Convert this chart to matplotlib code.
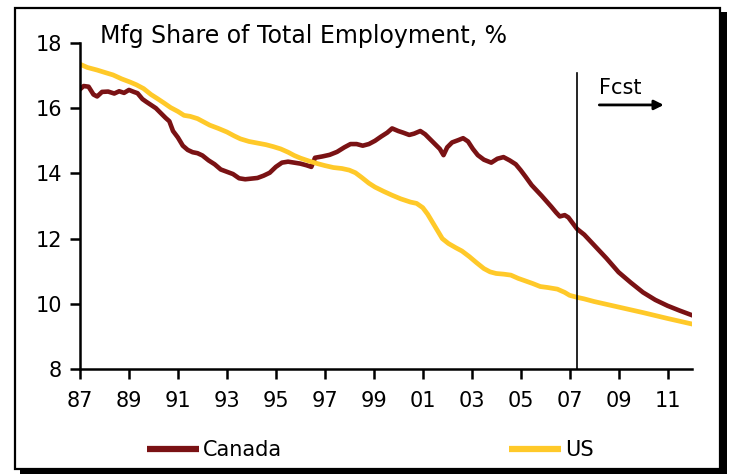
import numpy as np
import matplotlib
matplotlib.use('Agg')
from matplotlib import pyplot as plt
from matplotlib.patches import Rectangle

# Canada: mfg share of total employment, % (history + forecast)
can_year = [1987.0, 1987.15, 1987.35, 1987.55, 1987.7, 1987.9, 1988.15, 1988.4, 1988.6, 1988.8,
            1989.0, 1989.2, 1989.35, 1989.55, 1989.7, 1989.9, 1990.1, 1990.3, 1990.5, 1990.65,
            1990.8, 1991.0, 1991.2, 1991.4, 1991.6, 1991.8, 1992.0, 1992.25, 1992.5, 1992.75,
            1993.0, 1993.25, 1993.5, 1993.75, 1994.0, 1994.25, 1994.5, 1994.75, 1995.0, 1995.25,
            1995.5, 1995.75, 1996.0, 1996.25, 1996.45, 1996.6, 1996.9, 1997.2, 1997.5, 1997.8,
            1998.05, 1998.3, 1998.55, 1998.8, 1999.05, 1999.3, 1999.55, 1999.75, 2000.0, 2000.2,
            2000.45, 2000.65, 2000.9, 2001.1, 2001.3, 2001.5, 2001.7, 2001.85, 2002.0, 2002.2,
            2002.45, 2002.65, 2002.85, 2003.05, 2003.25, 2003.5, 2003.8, 2004.05, 2004.3, 2004.55,
            2004.8, 2005.0, 2005.2, 2005.45, 2005.65, 2005.85, 2006.05, 2006.25, 2006.45, 2006.6,
            2006.8, 2006.95, 2007.1, 2007.3, 2007.6, 2008.0, 2008.5, 2009.0, 2009.5, 2010.0,
            2010.5, 2011.0, 2011.5, 2012.0]
can_val = [16.58, 16.68, 16.66, 16.42, 16.36, 16.5, 16.51, 16.45, 16.52, 16.47,
           16.56, 16.5, 16.46, 16.28, 16.2, 16.1, 16.0, 15.85, 15.7, 15.6,
           15.3, 15.1, 14.85, 14.72, 14.65, 14.62, 14.55, 14.4, 14.28, 14.12,
           14.05, 13.98, 13.85, 13.82, 13.84, 13.86, 13.93, 14.02, 14.2, 14.33,
           14.36, 14.33, 14.3, 14.25, 14.2, 14.48, 14.52, 14.57, 14.66, 14.8,
           14.9, 14.9, 14.85, 14.9, 15.0, 15.13, 15.25, 15.38, 15.3, 15.25,
           15.18, 15.22, 15.3, 15.2, 15.05, 14.9, 14.75, 14.56, 14.8, 14.95,
           15.02, 15.08, 14.98, 14.75, 14.56, 14.42, 14.33, 14.45, 14.5, 14.4,
           14.28, 14.1, 13.9, 13.64, 13.48, 13.32, 13.15, 12.98, 12.8, 12.68,
           12.72, 12.65, 12.5, 12.3, 12.12, 11.8, 11.4, 10.97, 10.65, 10.35,
           10.12, 9.94, 9.79, 9.65]

# US
us_year = [1987.0, 1987.3, 1987.7, 1988.0, 1988.35, 1988.7, 1989.05, 1989.3, 1989.6, 1989.9,
           1990.15, 1990.45, 1990.7, 1991.0, 1991.25, 1991.5, 1991.8, 1992.05, 1992.3, 1992.65,
           1993.0, 1993.3, 1993.55, 1993.9, 1994.25, 1994.6, 1994.9, 1995.2, 1995.5, 1995.75,
           1996.0, 1996.35, 1996.7, 1997.0, 1997.35, 1997.7, 1998.0, 1998.25, 1998.5, 1998.8,
           1999.05, 1999.4, 1999.75, 2000.1, 2000.5, 2000.75, 2001.0, 2001.2, 2001.4, 2001.6,
           2001.8, 2002.05, 2002.35, 2002.6, 2002.9, 2003.2, 2003.5, 2003.75, 2004.0, 2004.3,
           2004.6, 2004.9, 2005.2, 2005.5, 2005.8, 2006.1, 2006.5, 2006.8, 2007.0, 2007.3,
           2007.6, 2008.0, 2009.0, 2010.0, 2011.0, 2012.0]
us_val = [17.35, 17.25, 17.17, 17.1, 17.02, 16.9, 16.8, 16.72, 16.6, 16.42,
          16.3, 16.15, 16.02, 15.9, 15.78, 15.75, 15.68, 15.58, 15.48, 15.38,
          15.27, 15.15, 15.06, 14.98, 14.93, 14.88, 14.82, 14.75, 14.65, 14.55,
          14.47, 14.38, 14.3, 14.24, 14.18, 14.15, 14.1, 14.02, 13.88, 13.7,
          13.58, 13.45, 13.33, 13.22, 13.12, 13.08, 12.95, 12.75, 12.5, 12.25,
          12.0, 11.85, 11.72, 11.62, 11.45, 11.26, 11.08, 10.98, 10.93, 10.91,
          10.88, 10.78, 10.7, 10.62, 10.53, 10.5, 10.45, 10.35, 10.26, 10.2,
          10.15, 10.07, 9.9, 9.73, 9.55, 9.38]

fcst_start = 2007.3
xticks = [1987 + 2 * i for i in range(13)]
xlabels = ['87', '89', '91', '93', '95', '97', '99', '01', '03', '05', '07', '09', '11']

plt.rcParams['font.family'] = ['DejaVu Sans']
fs = 15

fig = plt.figure(figsize=(7.3, 4.75), dpi=100)
ax = fig.add_axes([80/730, 1 - 369/475, 612/730, 326/475])
ax.patch.set_alpha(0)

# outer frame with drop shadow
fig.patches.append(Rectangle((20/730, 1 - 474/475), 707/730, 462/475, transform=fig.transFigure,
                             facecolor='black', edgecolor='none', zorder=-2))
fig.patches.append(Rectangle((15/730, 1 - 469/475), 705/730, 461/475, transform=fig.transFigure,
                             facecolor='white', edgecolor='black', linewidth=1.6, zorder=-1))

ax.plot(can_year, can_val, color='#7a1214', lw=3.3, label='Canada', solid_joinstyle='round')
ax.plot(us_year, us_val, color='#ffc929', lw=3.4, label='US', solid_joinstyle='round')

ax.plot([fcst_start, fcst_start], [8, 17.08], color='black', lw=1.2)
ax.annotate('', xy=(2010.96, 16.1), xytext=(2008.1, 16.1),
            arrowprops=dict(arrowstyle='-|>', color='black', lw=2, mutation_scale=14))
ax.text(2008.2, 16.45, 'Fcst', fontsize=fs, ha='left', va='baseline')
ax.text(1987.8, 18.0, 'Mfg Share of Total Employment, %', fontsize=17, ha='left', va='baseline')

ax.set_xlim(1987, 2012)
ax.set_ylim(8, 18)
ax.set_xticks(xticks)
ax.set_xticklabels(xlabels)
ax.set_yticks([8, 10, 12, 14, 16, 18])
ax.tick_params(axis='both', direction='out', length=7, width=1.8, labelsize=fs, pad=6)
ax.tick_params(axis='x', pad=9)
for s in ['top', 'right']:
    ax.spines[s].set_visible(False)
for s in ['left', 'bottom']:
    ax.spines[s].set_linewidth(1.8)

leg1 = fig.legend(handles=[ax.lines[0]], loc='center left', bbox_to_anchor=(147/730, 1 - 450/475),
                  frameon=False, fontsize=fs, handlelength=2.5, handletextpad=0.2, borderpad=0,
                  borderaxespad=0)
leg2 = fig.legend(handles=[ax.lines[1]], loc='center left', bbox_to_anchor=(509/730, 1 - 450/475),
                  frameon=False, fontsize=fs, handlelength=2.5, handletextpad=0.2, borderpad=0,
                  borderaxespad=0)
for leg in (leg1, leg2):
    for l in leg.get_lines():
        l.set_linewidth(4.5)
        l.set_solid_capstyle('butt')

fig.savefig('out.png', dpi=100)
